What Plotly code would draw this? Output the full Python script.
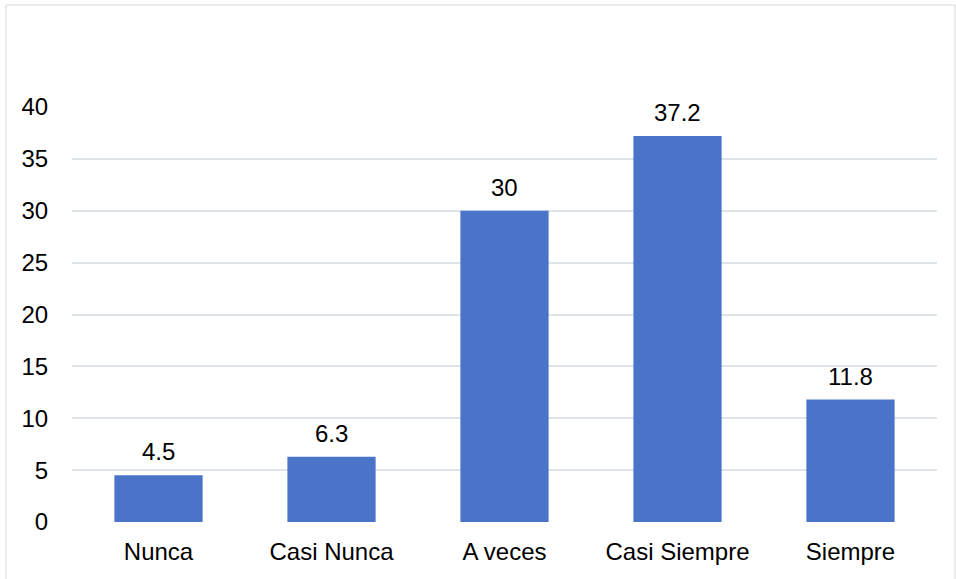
import plotly.graph_objects as go

categories = ["Nunca", "Casi Nunca", "A veces", "Casi Siempre", "Siempre"]
values = [4.5, 6.3, 30, 37.2, 11.8]
labels = ["4.5", "6.3", "30", "37.2", "11.8"]
y_ticks = [0, 5, 10, 15, 20, 25, 30, 35, 40]

W, H = 956, 579
ml, mr, mt, mb = 72, 19, 107, 57
pw, ph = W - ml - mr, H - mt - mb

FONT = "Liberation Sans, Arial"

fig = go.Figure()
fig.add_trace(go.Bar(
    x=categories, y=values,
    marker=dict(color="#4a74c8", line=dict(width=0)),
    width=0.51, cliponaxis=False, hoverinfo="skip",
))

for c, v, t in zip(categories, values, labels):
    fig.add_annotation(x=c, y=v, text=t, showarrow=False, yanchor="bottom",
                       yshift=8, font=dict(family=FONT, size=24, color="#000000"))

fig.update_layout(
    width=W, height=H,
    margin=dict(l=ml, r=mr, t=mt, b=mb),
    paper_bgcolor="white", plot_bgcolor="white",
    showlegend=False,
    font=dict(family=FONT, size=24, color="#000000"),
    xaxis=dict(showgrid=False, showline=False, zeroline=False,
               ticks="outside", ticklen=8, tickcolor="rgba(0,0,0,0)",
               tickfont=dict(size=24)),
    yaxis=dict(range=[0, 40], tickvals=y_ticks, showgrid=True,
               gridcolor="#dfe3ea", gridwidth=2, zeroline=False, showline=False,
               ticks="outside", ticklen=18, tickcolor="rgba(0,0,0,0)",
               tickfont=dict(size=24)),
    shapes=[dict(type="rect", xref="paper", yref="paper",
                 x0=(6 - ml) / pw, x1=(956 - 1 - ml) / pw,
                 y0=-0.3, y1=(H - mb - 5) / ph,
                 line=dict(color="#d9d9d9", width=1), fillcolor="rgba(0,0,0,0)",
                 layer="below")],
)

fig.write_html("out.html", config={"displayModeBar": False},
               post_script="document.body.style.margin='0px';document.body.style.overflow='hidden';")
